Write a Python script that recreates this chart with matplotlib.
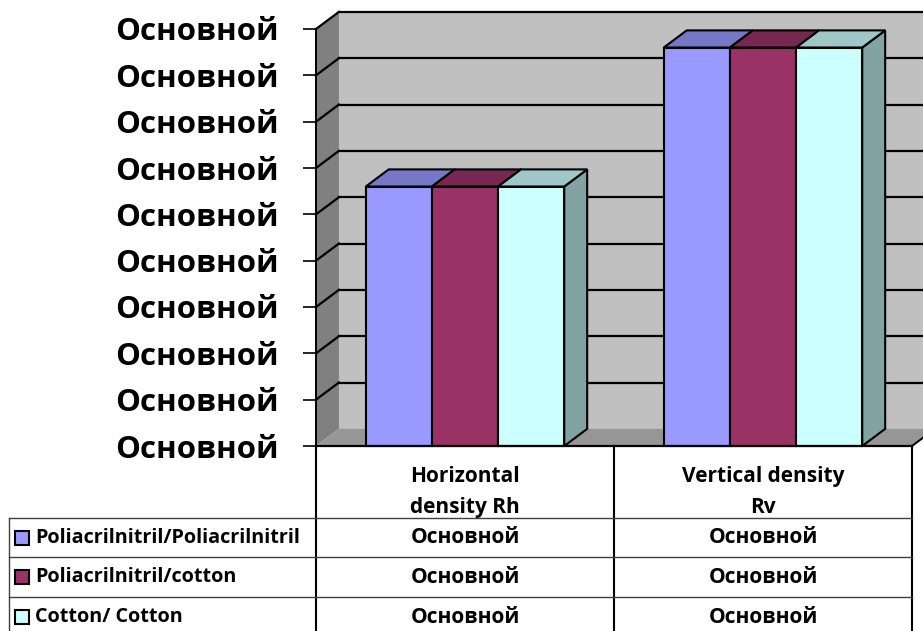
import numpy as np
import matplotlib.pyplot as plt
from matplotlib.patches import Polygon, Rectangle
from matplotlib.colors import to_rgb

plt.rcParams['font.family'] = ['Open Sans', 'DejaVu Sans']
plt.rcParams['font.weight'] = 'bold'

categories = ['Horizontal\ndensity Rh', 'Vertical density\nRv']
series = ['Poliacrilnitril/Poliacrilnitril', 'Poliacrilnitril/cotton', 'Cotton/ Cotton']
values = [
    [56, 86],   # Poliacrilnitril/Poliacrilnitril
    [56, 86],   # Poliacrilnitril/cotton
    [56, 86],   # Cotton/ Cotton
]
yticks = [0, 10, 20, 30, 40, 50, 60, 70, 80, 90]
ytick_labels = ['Основной'] * len(yticks)
cell_text = [['Основной', 'Основной'],
             ['Основной', 'Основной'],
             ['Основной', 'Основной']]
colors = ['#9999FF', '#993366', '#CCFFFF']

W, H = 923, 631
ncat = len(categories)
ymax = yticks[-1]
bar_w = 0.222          # width of one bar in category units
DX, DY = 0.077, 3.7    # depth offset of the 3d box


def shade(c, f):
    return tuple(v * f for v in to_rgb(c))


fig = plt.figure(figsize=(W / 100, H / 100), dpi=100)
ax = fig.add_axes([316 / W, 1 - 446 / H, 596 / W, 417 / H])
ax.set_xlim(0, ncat)
ax.set_ylim(0, ymax)
ax.patch.set_visible(False)

# walls and floor
ax.add_patch(Polygon([(DX, DY), (ncat + DX, DY), (ncat + DX, ymax + DY), (DX, ymax + DY)],
                     closed=True, fc='#C0C0C0', ec='none', clip_on=False, zorder=1))
ax.add_patch(Polygon([(0, 0), (DX, DY), (DX, ymax + DY), (0, ymax)],
                     closed=True, fc='#808080', ec='none', clip_on=False, zorder=1))
for t in yticks[1:]:
    ax.plot([DX, ncat + DX], [t + DY, t + DY], color='black', lw=1.6, clip_on=False, zorder=1.5)
    ax.plot([0, DX], [t, t + DY], color='black', lw=1.6, clip_on=False, zorder=1.5)
ax.add_patch(Polygon([(0, 0), (ncat, 0), (ncat + DX, DY), (DX, DY)],
                     closed=True, fc='#969696', ec='none', clip_on=False, zorder=1.6))
ax.plot([ncat, ncat + DX], [0, DY], color='black', lw=1.4, clip_on=False, zorder=1.7)

# 3d bars
for j in range(ncat):
    start = j + 0.5 - len(series) * bar_w / 2
    for i in range(len(series)):
        x0 = start + i * bar_w
        h = values[i][j]
        kw = dict(closed=True, ec='black', lw=1.5, joinstyle='miter', clip_on=False, zorder=3)
        ax.add_patch(Polygon([(x0 + bar_w, 0), (x0 + bar_w + DX, DY),
                              (x0 + bar_w + DX, h + DY), (x0 + bar_w, h)],
                             fc=shade(colors[i], 0.64), **kw))
        ax.add_patch(Polygon([(x0, h), (x0 + bar_w, h), (x0 + bar_w + DX, h + DY), (x0 + DX, h + DY)],
                             fc=shade(colors[i], 0.78), **kw))
        ax.add_patch(Rectangle((x0, 0), bar_w, h, fc=colors[i], ec='black', lw=1.5,
                               joinstyle='miter', clip_on=False, zorder=3))

for s in ['top', 'right']:
    ax.spines[s].set_visible(False)
ax.spines['left'].set_linewidth(1.4)
ax.spines['bottom'].set_linewidth(1.6)
ax.spines['left'].set_zorder(4)
ax.spines['bottom'].set_zorder(4)
ax.set_xticks([])
ax.set_yticks(yticks)
ax.set_yticklabels(ytick_labels, fontsize=22.5, fontweight='bold')
ax.tick_params(axis='y', direction='out', length=9.5, width=1.2, pad=17)

# data table under the plot
left = -(316 - 9) / 298
tab = fig.add_axes([9 / W, (H - 637) / H, 903 / W, (637 - 446) / H])
tab.set_xlim(left, ncat)
tab.set_ylim(4.8, 0)
tab.axis('off')
for x in range(ncat + 1):
    tab.plot([x, x], [0, 4.8], color='black', lw=1.5, clip_on=False)
tab.plot([left, left], [1.8, 4.8], color='#404040', lw=1, clip_on=False)
for y in [1.8, 2.8, 3.8]:
    tab.plot([left, ncat], [y, y], color='#404040', lw=1, clip_on=False)

for j, cat in enumerate(categories):
    tab.text(j + 0.5, 1.15, cat, ha='center', va='center', fontsize=15,
             fontweight='bold', linespacing=1.65)
    for i in range(len(series)):
        tab.text(j + 0.5, 2.3 + i, cell_text[i][j], ha='center', va='center',
                 fontsize=15, fontweight='bold')

for i, name in enumerate(series):
    tab.plot([(22 - 316) / 298], [2.3 + i], marker='s', ms=9.5, mfc=colors[i],
             mec='black', mew=1.5, clip_on=False)
    tab.text((35 - 316) / 298, 2.3 + i, name, ha='left', va='center',
             fontsize=14.2, fontweight='bold')

fig.savefig('out.png', dpi=100)
